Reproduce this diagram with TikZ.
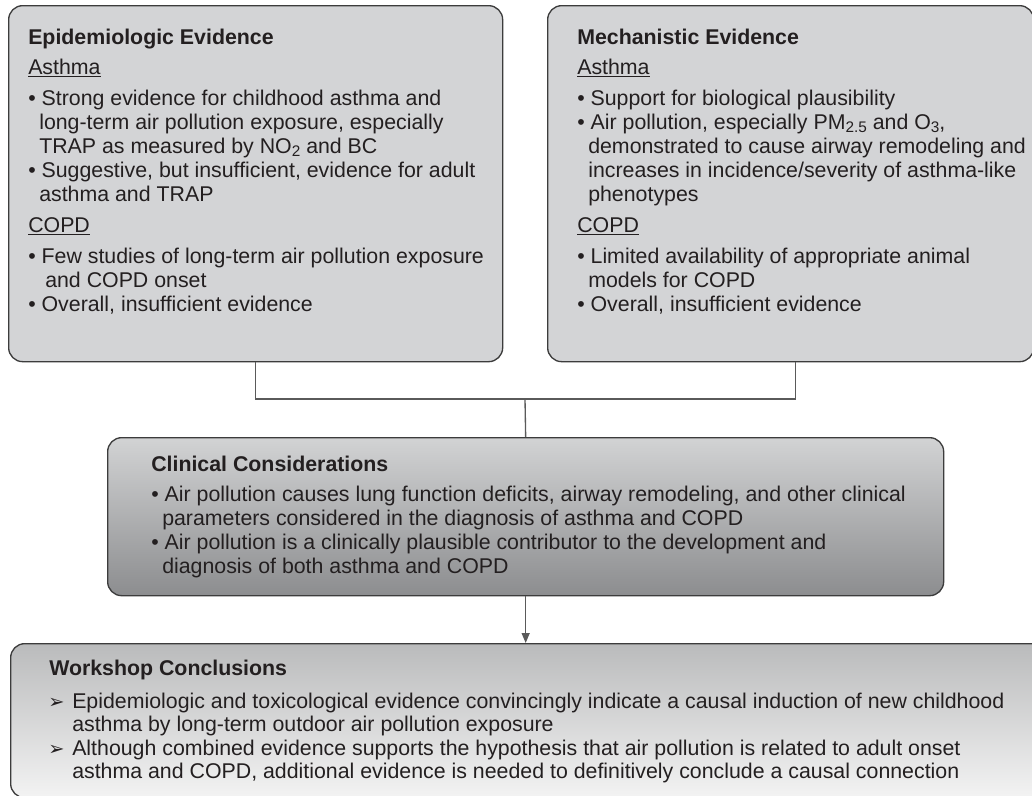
\documentclass[tikz,border=0pt]{standalone}
\usepackage{fontspec}
\setmainfont{Liberation Sans}
\newfontfamily\arrowfont{DejaVu Sans}
\usetikzlibrary{arrows.meta}
\definecolor{txt}{HTML}{231F20}
\definecolor{edge}{HTML}{3C3C3C}
\definecolor{wire}{HTML}{5A5A5A}
\definecolor{topfill}{HTML}{D3D4D6}
\definecolor{clintop}{HTML}{D2D3D4}
\definecolor{clinbot}{HTML}{8C8D8F}
\definecolor{worktop}{HTML}{BABBBC}
\definecolor{workbot}{HTML}{F3F3F3}
\newcommand\mysub[1]{\raisebox{-0.35ex}{\fontsize{11.5}{12}\selectfont #1}}
\newcommand\arr{\makebox[18pt][l]{\arrowfont\fontsize{14.5}{14}\selectfont ➢}}
\tikzset{
  panel/.style={draw=edge, line width=1pt, rounded corners=10.5pt, anchor=north west, inner sep=0pt},
  ln/.style={anchor=base west, inner sep=0pt, text=txt, font=\fontsize{16}{18}\selectfont},
  hd/.style={ln, font=\fontsize{16}{18}\selectfont\bfseries},
  wirestyle/.style={draw=wire, line width=1pt},
}
\begin{document}
\begin{tikzpicture}[x=0.75pt,y=-0.75pt]
\useasboundingbox (0,0) rectangle (1032,796);
\clip (0,0) rectangle (1032,796);
% boxes
\node[panel, fill=topfill, minimum width=370.5pt, minimum height=267pt] (epi) at (8,5) {};
\node[panel, fill=topfill, minimum width=364.5pt, minimum height=267pt] (mech) at (547,5) {};
\node[panel, top color=clintop, bottom color=clinbot, minimum width=627pt, minimum height=118.5pt] (clin) at (107,437) {};
\node[panel, top color=worktop, bottom color=workbot, minimum width=777pt, minimum height=115.5pt] (work) at (10,643) {};
% connectors
\coordinate (join) at (525,399);
\draw[wirestyle] (epi.south) |- (join) -| ([xshift=3.75pt]mech.south);
\draw[wirestyle] (join) -- (clin.north);
\draw[wirestyle, -{Triangle[width=6pt,length=7.5pt]}] (clin.south) -- (clin.south |- work.north);
% left box text
\node[hd] (e0) at (28,44) {Epidemiologic Evidence};
\node[ln] (e1) at (28,74) {\underline{Asthma}};
\node[ln] (e2) at (28,105) {• Strong evidence for childhood asthma and};
\node[ln] (e3) at (39,129) {long-term air pollution exposure, especially};
\node[ln] (e4) at (39,153) {TRAP as measured by NO\mysub{2} and BC};
\node[ln] (e5) at (28,177) {• Suggestive, but insufficient, evidence for adult};
\node[ln] (e6) at (39,201) {asthma and TRAP};
\node[ln] (e7) at (28,232) {\underline{COPD}};
\node[ln] (e8) at (28,263) {• Few studies of long-term air pollution exposure};
\node[ln] (e9) at (45,287) {and COPD onset};
\node[ln] (e10) at (28,311) {• Overall, insufficient evidence};
% right box text
\node[hd] (m0) at (577,44) {Mechanistic Evidence};
\node[ln] (m1) at (577,74) {\underline{Asthma}};
\node[ln] (m2) at (577,105) {• Support for biological plausibility};
\node[ln] (m3) at (577,129) {• Air pollution, especially PM\mysub{2.5} and O\mysub{3},};
\node[ln] (m4) at (588,153) {demonstrated to cause airway remodeling and};
\node[ln] (m5) at (588,177) {increases in incidence/severity of asthma-like};
\node[ln] (m6) at (588,201) {phenotypes};
\node[ln] (m7) at (577,232) {\underline{COPD}};
\node[ln] (m8) at (577,263) {• Limited availability of appropriate animal};
\node[ln] (m9) at (588,287) {models for COPD};
\node[ln] (m10) at (577,311) {• Overall, insufficient evidence};
% clinical text
\node[hd] (c0) at (151,471) {Clinical Considerations};
\node[ln] (c1) at (151,501) {• Air pollution causes lung function deficits, airway remodeling, and other clinical};
\node[ln] (c2) at (162,525) {parameters considered in the diagnosis of asthma and COPD};
\node[ln] (c3) at (151,549) {• Air pollution is a clinically plausible contributor to the development and};
\node[ln] (c4) at (162,573) {diagnosis of both asthma and COPD};
% workshop text
\node[hd] (w0) at (49,675) {Workshop Conclusions};
\node[ln] (w1) at (48,708) {\arr Epidemiologic and toxicological evidence convincingly indicate a causal induction of new childhood};
\node[ln] (w2) at (72,731) {asthma by long-term outdoor air pollution exposure};
\node[ln] (w3) at (48,755) {\arr Although combined evidence supports the hypothesis that air pollution is related to adult onset};
\node[ln] (w4) at (72,778) {asthma and COPD, additional evidence is needed to definitively conclude a causal connection};
\end{tikzpicture}
\end{document}
